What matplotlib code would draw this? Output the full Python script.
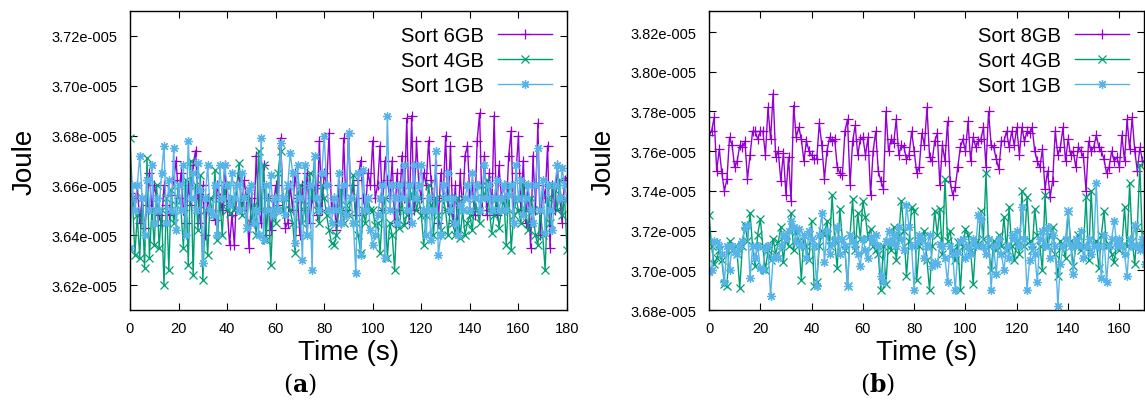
import numpy as np
import matplotlib.pyplot as plt
from matplotlib.ticker import FuncFormatter, MultipleLocator

# panel (a): one sample per second, values in 1e-5 J
t_a = list(range(0, 181))
sort6_a = [
    3.657, 3.655, 3.650, 3.660, 3.645, 3.655, 3.643, 3.652, 3.665, 3.650,
    3.660, 3.655, 3.648, 3.644, 3.660, 3.652, 3.648, 3.656, 3.662, 3.670,
    3.655, 3.665, 3.650, 3.645, 3.660, 3.652, 3.668, 3.674, 3.655, 3.645,
    3.660, 3.640, 3.655, 3.650, 3.648, 3.646, 3.660, 3.655, 3.650, 3.668,
    3.652, 3.636, 3.648, 3.636, 3.660, 3.665, 3.650, 3.662, 3.655, 3.635,
    3.655, 3.645, 3.672, 3.650, 3.645, 3.668, 3.640, 3.655, 3.642, 3.650,
    3.660, 3.652, 3.679, 3.655, 3.643, 3.645, 3.660, 3.650, 3.665, 3.655,
    3.640, 3.660, 3.650, 3.665, 3.645, 3.655, 3.660, 3.648, 3.678, 3.650,
    3.665, 3.660, 3.681, 3.650, 3.655, 3.642, 3.660, 3.645, 3.679, 3.650,
    3.681, 3.655, 3.660, 3.648, 3.662, 3.670, 3.655, 3.650, 3.665, 3.660,
    3.678, 3.655, 3.660, 3.676, 3.650, 3.670, 3.662, 3.655, 3.670, 3.645,
    3.665, 3.650, 3.672, 3.655, 3.687, 3.645, 3.688, 3.650, 3.678, 3.660,
    3.655, 3.665, 3.660, 3.678, 3.662, 3.650, 3.668, 3.645, 3.665, 3.655,
    3.680, 3.650, 3.676, 3.645, 3.660, 3.640, 3.665, 3.650, 3.672, 3.676,
    3.655, 3.660, 3.648, 3.678, 3.689, 3.650, 3.672, 3.648, 3.665, 3.650,
    3.688, 3.648, 3.668, 3.655, 3.660, 3.650, 3.672, 3.682, 3.645, 3.665,
    3.680, 3.650, 3.670, 3.645, 3.660, 3.635, 3.672, 3.650, 3.685, 3.640,
    3.660, 3.655, 3.676, 3.635, 3.660, 3.650, 3.668, 3.655, 3.645, 3.662, 3.663]
sort4_a = [
    3.679, 3.655, 3.632, 3.648, 3.631, 3.655, 3.627, 3.671, 3.631, 3.650,
    3.636, 3.660, 3.635, 3.650, 3.620, 3.655, 3.626, 3.658, 3.645, 3.652,
    3.660, 3.650, 3.635, 3.662, 3.628, 3.670, 3.624, 3.660, 3.642, 3.664,
    3.622, 3.650, 3.632, 3.655, 3.648, 3.666, 3.638, 3.655, 3.640, 3.660,
    3.650, 3.649, 3.655, 3.650, 3.660, 3.669, 3.648, 3.655, 3.643, 3.658,
    3.645, 3.652, 3.640, 3.674, 3.650, 3.668, 3.638, 3.655, 3.628, 3.650,
    3.645, 3.665, 3.674, 3.650, 3.655, 3.660, 3.650, 3.645, 3.633, 3.655,
    3.660, 3.645, 3.652, 3.640, 3.665, 3.655, 3.672, 3.650, 3.645, 3.660,
    3.655, 3.648, 3.642, 3.637, 3.636, 3.640, 3.650, 3.658, 3.645, 3.652,
    3.648, 3.655, 3.664, 3.645, 3.640, 3.633, 3.650, 3.645, 3.655, 3.650,
    3.650, 3.644, 3.645, 3.633, 3.650, 3.655, 3.631, 3.645, 3.640, 3.626,
    3.650, 3.643, 3.655, 3.644, 3.648, 3.660, 3.655, 3.658, 3.650, 3.655,
    3.648, 3.636, 3.648, 3.660, 3.652, 3.640, 3.655, 3.648, 3.642, 3.655,
    3.650, 3.640, 3.652, 3.645, 3.640, 3.655, 3.639, 3.650, 3.640, 3.645,
    3.648, 3.642, 3.655, 3.650, 3.645, 3.660, 3.655, 3.662, 3.650, 3.641,
    3.648, 3.655, 3.643, 3.650, 3.655, 3.636, 3.660, 3.634, 3.648, 3.655,
    3.650, 3.645, 3.660, 3.650, 3.642, 3.655, 3.650, 3.640, 3.636, 3.650,
    3.640, 3.626, 3.655, 3.645, 3.660, 3.658, 3.650, 3.662, 3.648, 3.655, 3.634]
sort1_a = [
    3.635, 3.660, 3.650, 3.660, 3.672, 3.655, 3.640, 3.662, 3.650, 3.668,
    3.645, 3.655, 3.650, 3.665, 3.676, 3.645, 3.662, 3.650, 3.675, 3.642,
    3.660, 3.650, 3.668, 3.640, 3.678, 3.655, 3.665, 3.650, 3.669, 3.658,
    3.629, 3.655, 3.668, 3.650, 3.648, 3.660, 3.640, 3.668, 3.655, 3.668,
    3.660, 3.652, 3.665, 3.655, 3.660, 3.650, 3.665, 3.655, 3.643, 3.658,
    3.660, 3.645, 3.650, 3.640, 3.679, 3.638, 3.660, 3.650, 3.664, 3.648,
    3.655, 3.650, 3.677, 3.655, 3.648, 3.660, 3.673, 3.665, 3.637, 3.668,
    3.655, 3.630, 3.668, 3.640, 3.660, 3.626, 3.672, 3.655, 3.650, 3.665,
    3.680, 3.660, 3.650, 3.645, 3.655, 3.650, 3.665, 3.645, 3.660, 3.648,
    3.681, 3.655, 3.645, 3.625, 3.665, 3.632, 3.666, 3.650, 3.655, 3.642,
    3.636, 3.640, 3.648, 3.655, 3.660, 3.631, 3.688, 3.650, 3.660, 3.655,
    3.645, 3.660, 3.655, 3.668, 3.650, 3.660, 3.645, 3.668, 3.655, 3.660,
    3.668, 3.650, 3.640, 3.655, 3.638, 3.650, 3.674, 3.632, 3.640, 3.660,
    3.655, 3.665, 3.650, 3.655, 3.645, 3.640, 3.652, 3.650, 3.655, 3.660,
    3.650, 3.665, 3.655, 3.660, 3.650, 3.655, 3.668, 3.655, 3.660, 3.650,
    3.655, 3.662, 3.650, 3.655, 3.660, 3.650, 3.656, 3.660, 3.645, 3.668,
    3.655, 3.662, 3.648, 3.655, 3.660, 3.650, 3.645, 3.660, 3.675, 3.650,
    3.662, 3.641, 3.660, 3.650, 3.642, 3.660, 3.668, 3.655, 3.667, 3.660, 3.654]

# panel (b)
t_b = list(range(0, 171))
sort8_b = [
    3.768, 3.770, 3.777, 3.750, 3.761, 3.749, 3.740, 3.746, 3.767, 3.763,
    3.752, 3.755, 3.763, 3.762, 3.765, 3.746, 3.758, 3.770, 3.770, 3.766,
    3.770, 3.770, 3.758, 3.782, 3.766, 3.789, 3.757, 3.760, 3.745, 3.759,
    3.738, 3.757, 3.735, 3.783, 3.767, 3.772, 3.766, 3.755, 3.765, 3.760,
    3.758, 3.756, 3.756, 3.774, 3.763, 3.746, 3.760, 3.767, 3.765, 3.766,
    3.752, 3.749, 3.748, 3.770, 3.776, 3.743, 3.765, 3.773, 3.758, 3.766,
    3.767, 3.758, 3.767, 3.738, 3.760, 3.770, 3.750, 3.745, 3.741, 3.780,
    3.760, 3.766, 3.764, 3.776, 3.758, 3.763, 3.762, 3.756, 3.758, 3.770,
    3.760, 3.749, 3.752, 3.769, 3.763, 3.782, 3.757, 3.755, 3.765, 3.769,
    3.743, 3.763, 3.755, 3.775, 3.745, 3.738, 3.742, 3.752, 3.762, 3.766,
    3.760, 3.775, 3.755, 3.767, 3.762, 3.765, 3.766, 3.772, 3.752, 3.780,
    3.763, 3.762, 3.756, 3.751, 3.765, 3.765, 3.770, 3.762, 3.770, 3.763,
    3.772, 3.758, 3.772, 3.765, 3.770, 3.769, 3.772, 3.760, 3.755, 3.752,
    3.761, 3.741, 3.750, 3.737, 3.745, 3.770, 3.758, 3.762, 3.772, 3.755,
    3.766, 3.758, 3.760, 3.752, 3.762, 3.760, 3.757, 3.740, 3.765, 3.760,
    3.762, 3.768, 3.762, 3.760, 3.756, 3.749, 3.752, 3.760, 3.755, 3.757,
    3.752, 3.768, 3.755, 3.776, 3.761, 3.777, 3.760, 3.750, 3.762, 3.755, 3.755]
sort4_b = [
    3.728, 3.712, 3.703, 3.706, 3.710, 3.705, 3.693, 3.692, 3.715, 3.710,
    3.712, 3.708, 3.691, 3.712, 3.723, 3.715, 3.729, 3.712, 3.702, 3.718,
    3.726, 3.712, 3.700, 3.710, 3.705, 3.716, 3.708, 3.714, 3.722, 3.704,
    3.718, 3.712, 3.729, 3.710, 3.720, 3.715, 3.695, 3.718, 3.712, 3.705,
    3.725, 3.692, 3.694, 3.712, 3.720, 3.718, 3.725, 3.712, 3.738, 3.715,
    3.701, 3.731, 3.716, 3.710, 3.692, 3.718, 3.736, 3.710, 3.729, 3.716,
    3.735, 3.727, 3.716, 3.721, 3.712, 3.710, 3.708, 3.690, 3.712, 3.693,
    3.715, 3.710, 3.722, 3.705, 3.718, 3.735, 3.720, 3.697, 3.715, 3.732,
    3.730, 3.695, 3.712, 3.716, 3.720, 3.705, 3.690, 3.712, 3.730, 3.718,
    3.731, 3.708, 3.746, 3.715, 3.720, 3.710, 3.705, 3.714, 3.690, 3.712,
    3.721, 3.718, 3.710, 3.693, 3.714, 3.712, 3.730, 3.716, 3.749, 3.712,
    3.700, 3.715, 3.710, 3.718, 3.712, 3.727, 3.710, 3.732, 3.712, 3.705,
    3.715, 3.708, 3.740, 3.712, 3.737, 3.715, 3.710, 3.731, 3.718, 3.712,
    3.700, 3.738, 3.712, 3.718, 3.722, 3.708, 3.697, 3.715, 3.712, 3.706,
    3.730, 3.715, 3.702, 3.712, 3.718, 3.710, 3.712, 3.737, 3.705, 3.740,
    3.712, 3.715, 3.701, 3.718, 3.730, 3.712, 3.713, 3.708, 3.704, 3.715,
    3.710, 3.712, 3.732, 3.712, 3.744, 3.715, 3.703, 3.722, 3.753, 3.712, 3.718]
sort1_b = [
    3.699, 3.700, 3.715, 3.714, 3.712, 3.708, 3.694, 3.712, 3.700, 3.712,
    3.709, 3.708, 3.712, 3.715, 3.722, 3.723, 3.696, 3.712, 3.706, 3.712,
    3.701, 3.700, 3.711, 3.712, 3.687, 3.706, 3.707, 3.706, 3.712, 3.718,
    3.716, 3.720, 3.725, 3.722, 3.714, 3.721, 3.712, 3.718, 3.706, 3.720,
    3.716, 3.712, 3.692, 3.718, 3.729, 3.704, 3.720, 3.708, 3.713, 3.716,
    3.722, 3.708, 3.716, 3.712, 3.692, 3.718, 3.715, 3.712, 3.708, 3.702,
    3.716, 3.710, 3.706, 3.717, 3.714, 3.718, 3.712, 3.697, 3.694, 3.715,
    3.720, 3.714, 3.718, 3.712, 3.722, 3.716, 3.710, 3.733, 3.722, 3.712,
    3.690, 3.714, 3.718, 3.716, 3.706, 3.712, 3.718, 3.702, 3.704, 3.703,
    3.713, 3.712, 3.706, 3.694, 3.712, 3.708, 3.690, 3.709, 3.715, 3.716,
    3.706, 3.712, 3.708, 3.716, 3.712, 3.728, 3.726, 3.712, 3.708, 3.716,
    3.690, 3.712, 3.698, 3.716, 3.708, 3.700, 3.712, 3.706, 3.718, 3.716,
    3.720, 3.712, 3.732, 3.716, 3.690, 3.705, 3.712, 3.708, 3.694, 3.716,
    3.720, 3.712, 3.722, 3.706, 3.718, 3.712, 3.682, 3.703, 3.712, 3.716,
    3.730, 3.712, 3.698, 3.716, 3.712, 3.720, 3.706, 3.712, 3.716, 3.708,
    3.712, 3.744, 3.712, 3.696, 3.718, 3.694, 3.712, 3.716, 3.725, 3.712,
    3.716, 3.712, 3.708, 3.697, 3.716, 3.712, 3.723, 3.712, 3.710, 3.716, 3.703]

purple = "#9400d3"
green = "#009e73"
blue = "#56b4e9"
star = (8, 2, 0)

plt.rcParams['font.family'] = ['Liberation Sans', 'DejaVu Sans']
plt.rcParams['mathtext.fontset'] = 'dejavuserif'

W, H = 1145, 406
fig = plt.figure(figsize=(W / 100, H / 100), dpi=100)


def setup(ax, ylim, xlim, label, label_x):
    ax.set_xlim(*xlim)
    ax.set_ylim(*ylim)
    ax.xaxis.set_major_locator(MultipleLocator(20))
    ax.yaxis.set_major_locator(MultipleLocator(0.02))
    ax.yaxis.set_major_formatter(FuncFormatter(lambda v, p: "%.2fe-005" % v))
    ax.tick_params(direction="in", top=True, right=True, length=5,
                   width=0.8, labelsize=10.5)
    ax.tick_params(axis="y", pad=9)
    ax.tick_params(axis="x", pad=8)
    for s in ax.spines.values():
        s.set_linewidth(1.0)
    pos = ax.get_position()
    wpx = pos.width * W
    ax.set_xlabel("Time (s)", fontsize=20, va="center")
    ax.xaxis.set_label_coords(0.5, -42 / 299)
    ax.set_ylabel("Joule", fontsize=20, va="center")
    ax.yaxis.set_label_coords(-105 / wpx, 0.5)
    fig.text(label_x / W, 1 - 385 / H, "($\\mathbf{%s}$)" % label,
             ha="center", va="center", fontsize=17, family="DejaVu Serif")


def draw(ax, t, series):
    for name, vals, col, mk, ms in series:
        ax.plot(t, vals, color=col, lw=1.0, marker=mk, ms=ms, mew=0.9,
                label=name)
    ax.legend(loc="upper right", frameon=False, markerfirst=False,
              fontsize=14.5, handlelength=2.7, handletextpad=0.7,
              labelspacing=0.3, borderaxespad=0.35, numpoints=1)


ax1 = fig.add_axes([130 / W, 1 - 311 / H, 437 / W, 299 / H])
draw(ax1, t_a, [("Sort 6GB", sort6_a, purple, "+", 6.5),
                ("Sort 4GB", sort4_a, green, "x", 5.5),
                ("Sort 1GB", sort1_a, blue, star, 6.5)])
setup(ax1, (3.61, 3.73), (0, 180), "a", 300)

ax2 = fig.add_axes([709 / W, 1 - 311 / H, 435 / W, 299 / H])
draw(ax2, t_b, [("Sort 8GB", sort8_b, purple, "+", 6.5),
                ("Sort 4GB", sort4_b, green, "x", 5.5),
                ("Sort 1GB", sort1_b, blue, star, 6.5)])
setup(ax2, (3.68, 3.8306), (0, 169.6), "b", 878)

fig.savefig("out.png", dpi=100)
